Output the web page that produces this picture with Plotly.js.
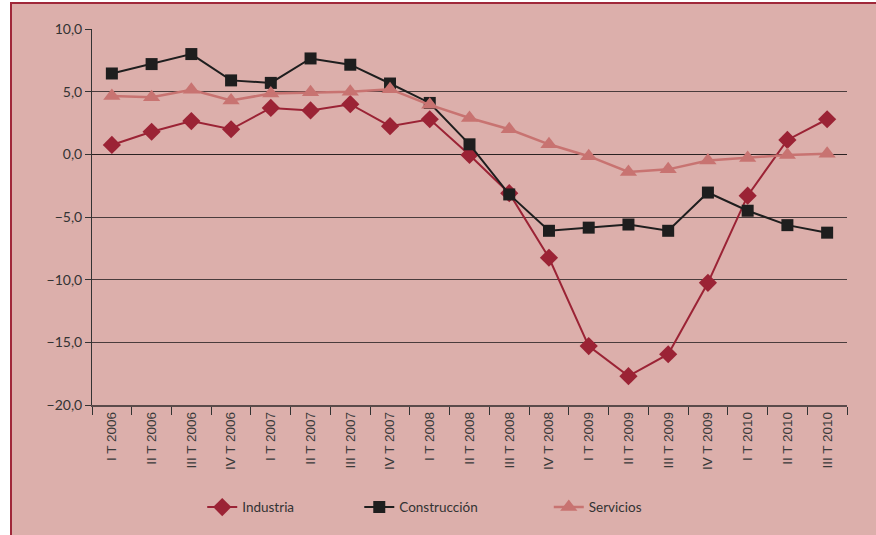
<!DOCTYPE html>
<html>
<head>
<meta charset="utf-8">
<script src="https://cdn.plot.ly/plotly-3.0.1.min.js"></script>
<style>
  html, body { margin: 0; padding: 0; background: #ffffff; width: 876px; height: 535px; overflow: hidden; }
  #chart { position: absolute; left: 10px; top: 2px; width: 880px; height: 540px;
           border-left: 2px solid #a0283a; border-top: 2px solid #a0283a; box-sizing: border-box; background: #dcafab; }
</style>
</head>
<body>
<div id="chart"></div>
<script>
const categories = ["I T 2006", "II T 2006", "III T 2006", "IV T 2006",
                    "I T 2007", "II T 2007", "III T 2007", "IV T 2007",
                    "I T 2008", "II T 2008", "III T 2008", "IV T 2008",
                    "I T 2009", "II T 2009", "III T 2009", "IV T 2009",
                    "I T 2010", "II T 2010", "III T 2010"];
const industria = [0.75, 1.8, 2.65, 2.0, 3.7, 3.5, 4.0, 2.25, 2.8, -0.05, -3.1, -8.25,
                   -15.3, -17.7, -15.95, -10.25, -3.3, 1.15, 2.8];
const construccion = [6.45, 7.2, 8.0, 5.9, 5.7, 7.65, 7.15, 5.65, 4.1, 0.8, -3.2, -6.1,
                      -5.85, -5.6, -6.1, -3.05, -4.5, -5.65, -6.25];
const servicios = [4.65, 4.55, 5.15, 4.3, 4.85, 4.95, 5.0, 5.2, 3.95, 2.9, 2.0, 0.8,
                   -0.15, -1.4, -1.2, -0.5, -0.3, -0.05, 0.05];
const yTicks = [-20, -15, -10, -5, 0, 5, 10];

const FONT = "Lato, 'Open Sans', sans-serif";
const TICKFONT = "'Liberation Sans', Arial, sans-serif";

function legendAt(x) {
  return {
    orientation: "h", x: x, xanchor: "left", y: -0.272, yanchor: "middle",
    font: { family: FONT, size: 13.5, color: "#333333" },
    bgcolor: "rgba(0,0,0,0)", borderwidth: 0
  };
}

const traces = [
  { name: "Industria", x: categories, y: industria, type: "scatter", mode: "lines+markers",
    legend: "legend",
    line: { color: "#9b2335", width: 2 },
    marker: { symbol: "diamond", size: 14, color: "#9b2335" } },
  { name: "Construcción", x: categories, y: construccion, type: "scatter", mode: "lines+markers",
    legend: "legend2",
    line: { color: "#1e1e1e", width: 2 },
    marker: { symbol: "square", size: 12, color: "#1e1e1e" } },
  { name: "Servicios", x: categories, y: servicios, type: "scatter", mode: "lines+markers",
    legend: "legend3",
    line: { color: "#c87371", width: 2.5 },
    marker: { symbol: "triangle-up", size: 15, color: "#c87371" } }
];

const layout = {
  width: 864, height: 531,
  paper_bgcolor: "#dcafab",
  plot_bgcolor: "#dcafab",
  separators: ",.",
  font: { family: FONT, color: "#333333", size: 13 },
  margin: { l: 80, r: 29, t: 25, b: 130 },
  showlegend: true,
  legend: legendAt(0.146),
  legend2: legendAt(0.354),
  legend3: legendAt(0.605),
  xaxis: {
    type: "category",
    tickangle: -90,
    tickson: "boundaries",
    ticks: "outside", ticklen: 8, tickcolor: "#333333", tickwidth: 1,
    showline: true, linecolor: "#5a4a4a", linewidth: 1.5,
    showgrid: false, zeroline: false,
    tickfont: { family: TICKFONT, size: 13.5, color: "#3a3a3a" },
    range: [-0.5, categories.length - 0.5]
  },
  yaxis: {
    range: [-20, 10],
    tickvals: yTicks,
    tickformat: ".1f",
    ticks: "outside", ticklen: 6, tickcolor: "#333333",
    showline: true, linecolor: "#333333", linewidth: 1,
    showgrid: true, gridcolor: "#4a3c3c", gridwidth: 1,
    zeroline: true, zerolinecolor: "#2a2222", zerolinewidth: 1,
    tickfont: { family: FONT, size: 14, color: "#333333" }
  }
};

Plotly.newPlot("chart", traces, layout, { displayModeBar: false, staticPlot: true });
</script>
</body>
</html>
